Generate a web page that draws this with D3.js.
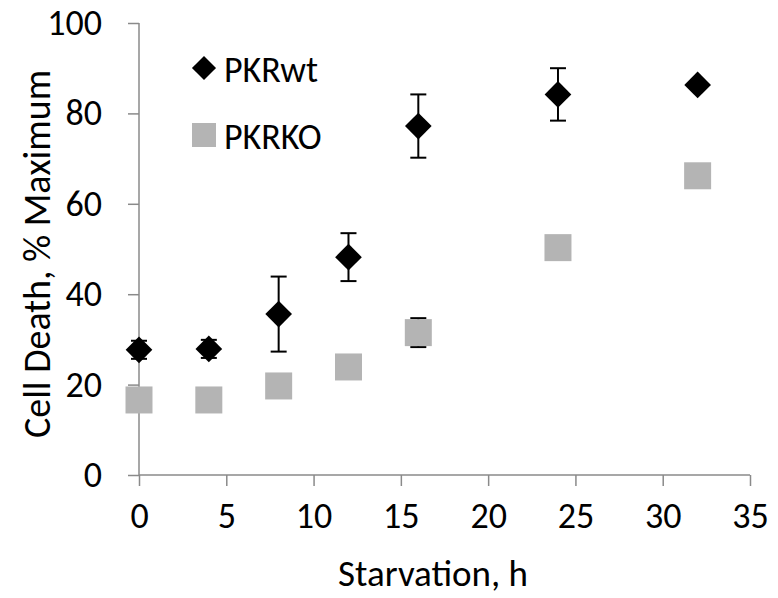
<!DOCTYPE html>
<html>
<head>
<meta charset="utf-8">
<script src="https://cdn.jsdelivr.net/npm/d3@7"></script>
<style>
  body { margin: 0; background: #fff; }
  svg text { font-family: Carlito, Calibri, Lato, sans-serif; fill: #000; }
</style>
</head>
<body>
<svg id="chart" width="778" height="598"></svg>
<script>
"use strict";

/********/
/* data */
/********/

const hours = [0, 4, 8, 12, 16, 24, 32];
const wtValues = [27.7, 27.9, 35.6, 48.2, 77.2, 84.2, 86.3];
const wtErrors = [2, 2, 8.3, 5.3, 7, 5.8, 0];
const koValues = [16.6, 16.6, 19.7, 23.9, 31.5, 50.3, 66.2];
const koErrors = [0, 0, 0, 0, 3.2, 0, 0];
const xTicks = [0, 5, 10, 15, 20, 25, 30, 35];
const yTicks = [0, 20, 40, 60, 80, 100];
const seriesNames = ["PKRwt", "PKRKO"];

/**********/
/* scales */
/**********/

const svg = d3.select("#chart");

const x = d3.scaleLinear().domain([0, 35]).range([139, 750]);
const y = d3.scaleLinear().domain([0, 100]).range([475, 23]);

const axisColour = "#8a8a8a";
const koColour = "#b4b4b4";
const fontSize = "36px";

/********/
/* axes */
/********/

const xAxis = svg
  .append("g")
  .attr("transform", "translate(0," + y(0) + ")")
  .call(d3.axisBottom(x).tickValues(xTicks).tickSize(11).tickPadding(16));

const yAxis = svg
  .append("g")
  .attr("transform", "translate(" + x(0) + ",0)")
  .call(d3.axisLeft(y).tickValues(yTicks).tickSize(11).tickPadding(26));

[xAxis, yAxis].forEach(function(axis) {
  axis.select(".domain").attr("stroke", axisColour).attr("stroke-width", 1.5);
  axis.selectAll(".tick line").attr("stroke", axisColour).attr("stroke-width", 1.5);
  axis
    .selectAll(".tick text")
    .attr("font-size", fontSize)
    .attr("font-family", "Carlito, Calibri, Lato, sans-serif")
    .attr("fill", "#000");
});

// keep the axis lines plain, without the outer ticks
xAxis.select(".domain").attr("d", "M" + x(0) + ",0H" + x(35));
yAxis.select(".domain").attr("d", "M0," + y(0) + "V" + y(100));

svg
  .append("text")
  .attr("x", 433)
  .attr("y", 586)
  .attr("text-anchor", "middle")
  .attr("font-size", "37px")
  .text("Starvation, h");

svg
  .append("text")
  .attr("transform", "translate(50,254) rotate(-90)")
  .attr("text-anchor", "middle")
  .attr("font-size", "38px")
  .text("Cell Death, % Maximum");

/**************/
/* error bars */
/**************/

function errorBars(values, errors) {
  const rows = hours
    .map((h, i) => ({ h: h, v: values[i], e: errors[i] }))
    .filter(d => d.e > 0);

  const g = svg.append("g").attr("stroke", "#000").attr("stroke-width", 2);

  g.selectAll("line.stem")
    .data(rows)
    .join("line")
    .attr("x1", d => x(d.h))
    .attr("x2", d => x(d.h))
    .attr("y1", d => y(d.v + d.e))
    .attr("y2", d => y(d.v - d.e));

  [1, -1].forEach(function(sign) {
    g.selectAll("line.cap" + sign)
      .data(rows)
      .join("line")
      .attr("x1", d => x(d.h) - 8)
      .attr("x2", d => x(d.h) + 8)
      .attr("y1", d => y(d.v + sign * d.e))
      .attr("y2", d => y(d.v + sign * d.e));
  });
}

errorBars(koValues, koErrors);
errorBars(wtValues, wtErrors);

/***********/
/* markers */
/***********/

const squareSym = d3.symbol(d3.symbolSquare, 729);
const diamondSym = d3.symbol(d3.symbolSquare, 356);

svg
  .append("g")
  .selectAll("path")
  .data(hours)
  .join("path")
  .attr("d", squareSym)
  .attr("transform", (h, i) => "translate(" + x(h) + "," + y(koValues[i]) + ")")
  .attr("fill", koColour);

svg
  .append("g")
  .selectAll("path")
  .data(hours)
  .join("path")
  .attr("d", diamondSym)
  .attr("transform", (h, i) => "translate(" + x(h) + "," + y(wtValues[i]) + ") rotate(45)")
  .attr("fill", "#000");

/**********/
/* legend */
/**********/

const legend = svg.append("g");

legend
  .append("path")
  .attr("d", d3.symbol(d3.symbolSquare, 290))
  .attr("transform", "translate(204,68) rotate(45)")
  .attr("fill", "#000");

legend
  .append("path")
  .attr("d", d3.symbol(d3.symbolSquare, 576))
  .attr("transform", "translate(204,135)")
  .attr("fill", koColour);

legend
  .selectAll("text")
  .data(seriesNames)
  .join("text")
  .attr("x", 224)
  .attr("y", (d, i) => (i === 0 ? 82 : 149))
  .attr("font-size", fontSize)
  .text(d => d);
</script>
</body>
</html>
